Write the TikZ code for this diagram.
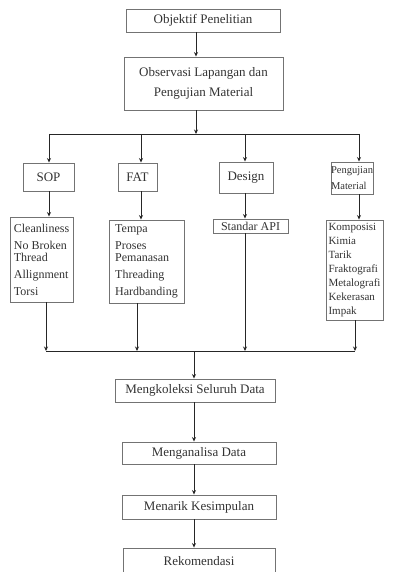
\documentclass[tikz,border=0pt]{standalone}
\usepackage{fontspec}
\setmainfont{Liberation Serif}
\usetikzlibrary{arrows.meta}
\begin{document}
\begin{tikzpicture}[x=1bp,y=-1bp,
  box/.style={draw=black!55, line width=0.9bp, inner sep=0pt, text=black!80,
    font=\fontsize{13bp}{20bp}\selectfont, align=center},
  listbox/.style={box, align=left, font=\fontsize{12bp}{12bp}\selectfont},
  arr/.style={-{Stealth[length=4.5bp,width=4bp]}, line width=0.9bp, draw=black!85},
  ln/.style={line width=0.9bp, draw=black!85}]
\useasboundingbox[fill=white] (0,0) rectangle (396,572);

% top boxes
\node[box, minimum width=154bp, minimum height=23bp] (obj) at (203,20.5) {Objektif Penelitian};
\node[box, minimum width=159bp, minimum height=53bp] (obs) at (203.5,83.5) {Observasi Lapangan dan\\Pengujian Material};

\coordinate (cx) at (196,0);
\coordinate (j1) at (196,134);
\draw[arr] (obj.south -| cx) -- (obs.north -| cx);
\draw[arr] (obs.south -| cx) -- (j1);

\coordinate (c1) at (49,134);
\coordinate (c2) at (141,134);
\coordinate (c3) at (245,134);
\coordinate (c4) at (359,134);
\draw[ln] (c1) -- (c4);

% header boxes
\node[box, minimum width=51bp, minimum height=28bp] (sop) at (48.5,177) {SOP};
\node[box, minimum width=39bp, minimum height=28bp] (fat) at (137.5,177) {FAT};
\node[box, minimum width=54bp, minimum height=31bp] (des) at (246,177.5) {Design};
\node[box, minimum width=42bp, minimum height=32bp, align=left,
  font=\fontsize{10.5bp}{13bp}\selectfont] (pm) at (352,178) {Pengujian\\[3bp]Material};

\draw[arr] (c1) -- (c1 |- sop.north);
\draw[arr] (c2) -- (c2 |- fat.north);
\draw[arr] (c3) -- (c3 |- des.north);
\draw[arr] (c4) -- (c4 |- pm.north);

% list boxes
\node[listbox, minimum width=63bp, minimum height=85bp] (l1) at (41.5,259.5)
  {Cleanliness\\[5bp]No Broken\\Thread\\[5bp]Allignment\\[5bp]Torsi};
\node[listbox, minimum width=75bp, minimum height=83bp] (l2) at (146.5,261.5)
  {Tempa\\[5bp]Proses\\Pemanasan\\[5bp]Threading\\[5bp]Hardbanding};
\node[listbox, align=center, minimum width=75bp, minimum height=14bp] (l3) at (250.5,226)
  {Standar API};
\node[listbox, minimum width=57bp, minimum height=100bp,
  font=\fontsize{11bp}{14bp}\selectfont] (l4) at (354.5,270)
  {Komposisi\\Kimia\\Tarik\\Fraktografi\\Metalografi\\Kekerasan\\Impak};

\draw[arr] (c1 |- sop.south) -- (c1 |- l1.north);
\draw[arr] (c2 |- fat.south) -- (c2 |- l2.north);
\draw[arr] (c3 |- des.south) -- (c3 |- l3.north);
\draw[arr] (c4 |- pm.south) -- (c4 |- l4.north);

% collecting line
\coordinate (b1) at (46,351);
\coordinate (b2) at (137,351);
\coordinate (b3) at (245,351);
\coordinate (b4) at (355,351);
\draw[arr] (b1 |- l1.south) -- (b1);
\draw[arr] (b2 |- l2.south) -- (b2);
\draw[arr] (b3 |- l3.south) -- (b3);
\draw[arr] (b4 |- l4.south) -- (b4);
\draw[ln] (b1) -- (b4);

% bottom boxes
\node[box, minimum width=160bp, minimum height=23bp] (mk) at (195,390.5) {Mengkoleksi Seluruh Data};
\node[box, minimum width=154bp, minimum height=22bp] (ma) at (199,453) {Menganalisa Data};
\node[box, minimum width=154bp, minimum height=24bp] (mr) at (199,507) {Menarik Kesimpulan};
\node[box, minimum width=152bp, minimum height=26bp] (rk) at (199,561) {Rekomendasi};

\coordinate (bc) at (194,351);
\draw[arr] (bc) -- (bc |- mk.north);
\draw[arr] (bc |- mk.south) -- (bc |- ma.north);
\draw[arr] (bc |- ma.south) -- (bc |- mr.north);
\draw[arr] (bc |- mr.south) -- (bc |- rk.north);
\end{tikzpicture}
\end{document}
